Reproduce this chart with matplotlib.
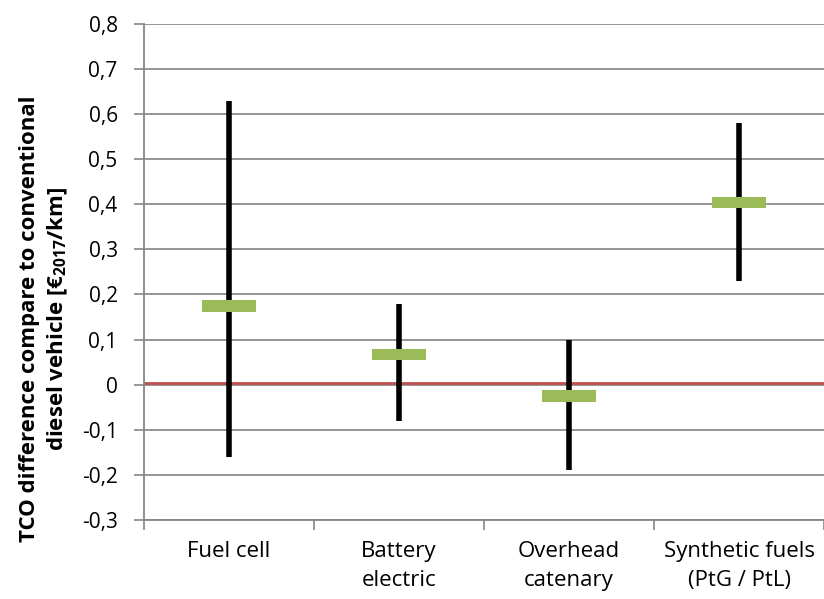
import numpy as np
import matplotlib.pyplot as plt
from matplotlib.ticker import FuncFormatter

plt.rcParams['font.family'] = 'Open Sans'
plt.rcParams['mathtext.fontset'] = 'custom'
plt.rcParams['mathtext.rm'] = 'Open Sans'
plt.rcParams['mathtext.bf'] = 'Open Sans:bold'

categories = ["Fuel cell", "Battery\nelectric", "Overhead\ncatenary", "Synthetic fuels\n(PtG / PtL)"]
low = [-0.16, -0.08, -0.19, 0.23]
high = [0.63, 0.18, 0.10, 0.58]
mid = [0.175, 0.067, -0.025, 0.404]
ref_line = 0.004  # red reference line, slightly above zero

fig = plt.figure(figsize=(8.24, 5.99), dpi=100)
ax = fig.add_axes([0.1748, 0.132, 0.8252, 0.828])

x = np.arange(len(categories)) + 0.5
ax.vlines(x, low, high, color='black', lw=4, zorder=3)
for xi, m in zip(x, mid):
    ax.add_patch(plt.Rectangle((xi - 0.16, m - 0.013), 0.32, 0.026,
                               facecolor='#9BBB59', edgecolor='none', zorder=4))
ax.axhline(ref_line, color='#C0504D', lw=2, zorder=2)

ax.set_xlim(0, 4)
ax.set_ylim(-0.3, 0.8)
ax.set_yticks(np.round(np.arange(-0.3, 0.81, 0.1), 1))
ax.yaxis.set_major_formatter(FuncFormatter(lambda v, p: ('%g' % round(v, 1)).replace('.', ',')))
ax.set_xticks(np.arange(0, 5))
ax.set_xticklabels([])
ax.set_xticks(x, minor=True)
ax.set_xticklabels(categories, minor=True, fontsize=16, linespacing=1.5)
ax.tick_params(axis='x', which='minor', length=0, pad=15)
ax.tick_params(axis='x', which='major', length=7, color='#868686', width=1.2)
ax.tick_params(axis='y', length=7, color='#868686', width=1.2, labelsize=15, pad=12)

ax.grid(axis='y', color='#8c8c8c', lw=1.3, zorder=1)
ax.set_axisbelow(True)
for s in ['top', 'right']:
    ax.spines[s].set_visible(False)
for s in ['left', 'bottom']:
    ax.spines[s].set_color('#868686')
    ax.spines[s].set_linewidth(1.3)

ax.set_ylabel('TCO difference compare to conventional\ndiesel vehicle [€$_\\mathbf{2017}$/km]',
              fontsize=16, fontweight='bold', linespacing=1.3)
ax.yaxis.set_label_coords(-0.109, 0.405)

fig.savefig('out.png', dpi=100)
